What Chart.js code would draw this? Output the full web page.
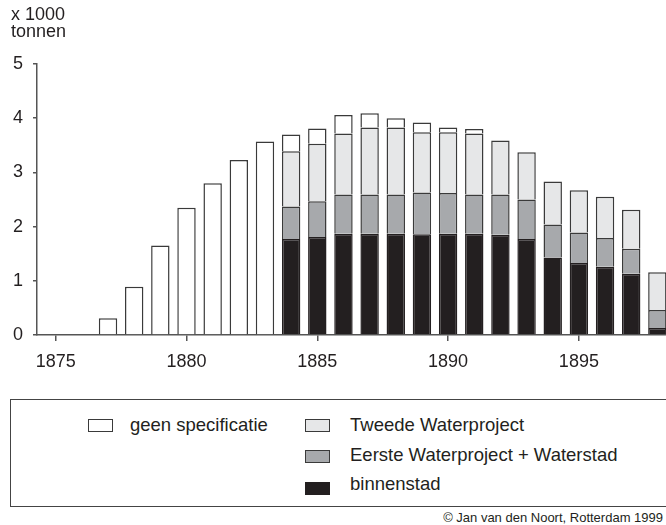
<!DOCTYPE html>
<html>
<head>
<meta charset="utf-8">
<script src="https://cdn.jsdelivr.net/npm/chart.js@4.4.1/dist/chart.umd.min.js"></script>
<style>
  body { margin: 0; background: #fff; font-family: "Liberation Sans", Arial, sans-serif; color: #231f20; }
  #wrap { position: relative; width: 666px; height: 525px; overflow: hidden; }
  #chart { position: absolute; left: 0; top: 0; }
  .unit { position: absolute; left: 11px; font-size: 18px; line-height: 20px; }
  #legend { position: absolute; left: 10px; top: 399px; width: 690px; height: 108px; border: 1.5px solid #444; box-sizing: border-box; }
  .sw { position: absolute; width: 25px; height: 13px; border: 1.5px solid #444; box-sizing: border-box; }
  .lt { position: absolute; font-size: 18.5px; line-height: 20px; white-space: nowrap; }
  #copy { position: absolute; right: 3px; top: 510px; font-size: 13px; line-height: 15px; }
</style>
</head>
<body>
<div id="wrap">
  <canvas id="chart" width="666" height="375"></canvas>
  <div class="unit" style="top:4px">x 1000</div>
  <div class="unit" style="top:21px">tonnen</div>
  <div id="legend"></div>
  <div id="copy">© Jan van den Noort, Rotterdam 1999</div>
</div>
<script>
/* DATA (x 1000 tonnen) */
const years = [1877, 1878, 1879, 1880, 1881, 1882, 1883, 1884, 1885, 1886, 1887,
               1888, 1889, 1890, 1891, 1892, 1893, 1894, 1895, 1896, 1897, 1898];
const tickYears = [1875, 1880, 1885, 1890, 1895];
const yTicks = [0, 1, 2, 3, 4, 5];

const binnenstad = [null, null, null, null, null, null, null,
  1.77, 1.81, 1.87, 1.87, 1.87, 1.86, 1.87, 1.87, 1.85, 1.77, 1.43, 1.33, 1.26, 1.13, 0.13];
const eersteWaterproject = [null, null, null, null, null, null, null,
  0.60, 0.66, 0.72, 0.72, 0.72, 0.77, 0.75, 0.72, 0.74, 0.73, 0.61, 0.56, 0.53, 0.46, 0.33];
const tweedeWaterproject = [null, null, null, null, null, null, null,
  1.02, 1.06, 1.13, 1.24, 1.24, 1.11, 1.12, 1.13, 1.00, 0.87, 0.79, 0.78, 0.76, 0.72, 0.70];
const geenSpecificatie = [0.31, 0.89, 1.65, 2.35, 2.80, 3.23, 3.57,
  0.31, 0.28, 0.34, 0.26, 0.17, 0.18, 0.09, 0.08, null, null, null, null, null, null, null];

/* SERIES (stacked bottom to top) */
const series = [
  { label: "binnenstad", data: binnenstad, color: "#231f20", border: "#231f20" },
  { label: "Eerste Waterproject + Waterstad", data: eersteWaterproject, color: "#a7a9ac", border: "#3a3a3a" },
  { label: "Tweede Waterproject", data: tweedeWaterproject, color: "#e6e7e8", border: "#3a3a3a" },
  { label: "geen specificatie", data: geenSpecificatie, color: "#ffffff", border: "#3a3a3a" }
];

const axisColor = "#555";
const font = { family: "'Liberation Sans', Arial, sans-serif", size: 18 };

new Chart(document.getElementById("chart"), {
  type: "bar",
  data: {
    datasets: series.map(s => ({
      label: s.label,
      data: years.map((yr, i) => ({ x: yr, y: s.data[i] })),
      backgroundColor: s.color,
      borderColor: s.border,
      borderWidth: 1.5,
      barPercentage: 0.88,
      categoryPercentage: 0.8
    }))
  },
  options: {
    responsive: false,
    animation: false,
    devicePixelRatio: 1,
    layout: { padding: { top: 64, left: 0, right: 0, bottom: 0 } },
    plugins: { legend: { display: false }, tooltip: { enabled: false } },
    scales: {
      x: {
        type: "linear",
        stacked: true,
        min: 1874.285,
        max: 1898.33,
        offset: false,
        afterBuildTicks: scale => { scale.ticks = tickYears.map(v => ({ value: v })); },
        afterFit: scale => { scale.height = 40; },
        ticks: { color: "#231f20", font: font, padding: 10, maxRotation: 0, callback: v => String(v) },
        grid: { drawOnChartArea: false, offset: false, tickLength: 6, color: axisColor, lineWidth: 1.5 },
        border: { color: axisColor, width: 1.5 }
      },
      y: {
        stacked: true,
        min: 0,
        max: 5,
        afterBuildTicks: scale => { scale.ticks = yTicks.map(v => ({ value: v })); },
        afterFit: scale => { scale.width = 37; },
        ticks: { color: "#231f20", font: font, padding: 10 },
        grid: { drawOnChartArea: false, tickLength: 4, color: axisColor, lineWidth: 1.5 },
        border: { color: axisColor, width: 1.5 }
      }
    }
  }
});

/* LEGEND (two columns, like the printed one) */
const legendSpots = {
  "geen specificatie": { sx: 88, sy: 419, tx: 130, ty: 415 },
  "Tweede Waterproject": { sx: 305, sy: 419, tx: 350, ty: 415 },
  "Eerste Waterproject + Waterstad": { sx: 305, sy: 450, tx: 350, ty: 445 },
  "binnenstad": { sx: 305, sy: 482, tx: 350, ty: 474 }
};
const wrap = document.getElementById("wrap");
series.forEach(s => {
  const p = legendSpots[s.label];
  const sw = document.createElement("div");
  sw.className = "sw";
  sw.style.left = p.sx + "px";
  sw.style.top = p.sy + "px";
  sw.style.background = s.color;
  sw.style.borderColor = s.border;
  wrap.appendChild(sw);
  const t = document.createElement("div");
  t.className = "lt";
  t.style.left = p.tx + "px";
  t.style.top = p.ty + "px";
  t.innerText = s.label;
  wrap.appendChild(t);
});
</script>
</body>
</html>
